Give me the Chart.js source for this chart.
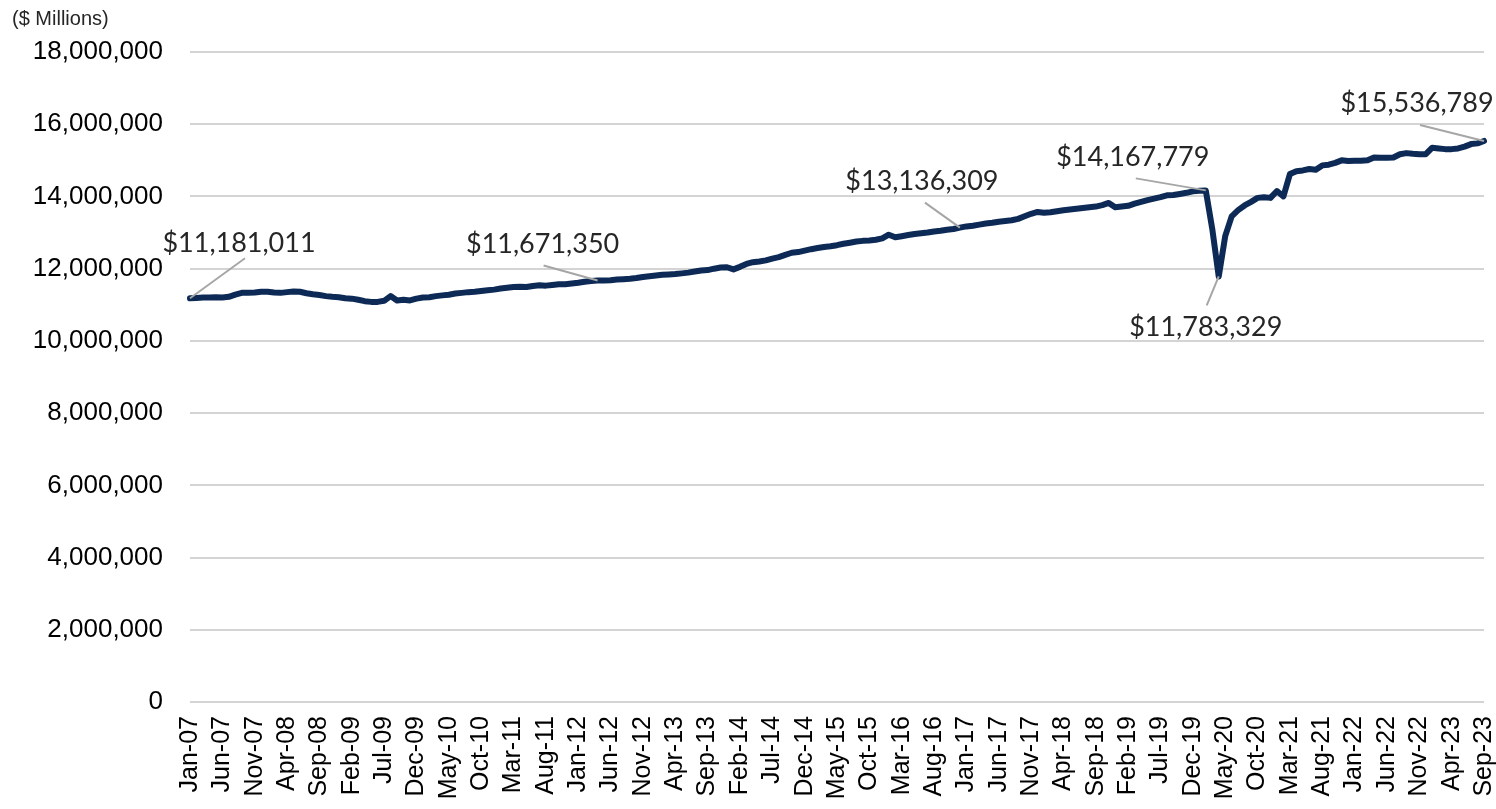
<!DOCTYPE html>
<html>
<head>
<meta charset="utf-8">
<script src="https://cdn.jsdelivr.net/npm/chart.js@4/dist/chart.umd.min.js"></script>
<style>
  html, body { margin: 0; padding: 0; background: #fff; }
  #wrap { width: 1496px; height: 809px; position: relative; }
</style>
</head>
<body>
<div id="wrap"><canvas id="spend" width="1496" height="809"></canvas></div>
<script>
// months Jan-07 .. Sep-23
var monthNames = ['Jan','Feb','Mar','Apr','May','Jun','Jul','Aug','Sep','Oct','Nov','Dec'];
var labels = [];
for (var y = 2007; y <= 2023; y++) {
    for (var m = 0; m < 12; m++) {
        if (y === 2023 && m > 8) break;
        labels.push(monthNames[m] + '-' + String(y).slice(2));
    }
}

// values in $ millions (one row per year)
var values = [
    11181011, 11190000, 11200000, 11200000, 11210000, 11200000, 11220000, 11280000, 11330000, 11330000, 11340000, 11360000,
    11360000, 11340000, 11330000, 11350000, 11370000, 11360000, 11320000, 11290000, 11270000, 11240000, 11220000, 11210000,
    11180000, 11170000, 11140000, 11100000, 11080000, 11080000, 11110000, 11240000, 11120000, 11140000, 11120000, 11170000,
    11200000, 11210000, 11240000, 11260000, 11280000, 11310000, 11330000, 11350000, 11360000, 11380000, 11400000, 11420000,
    11450000, 11470000, 11490000, 11500000, 11490000, 11520000, 11540000, 11530000, 11550000, 11570000, 11570000, 11590000,
    11610000, 11640000, 11660000, 11671350, 11670000, 11680000, 11700000, 11710000, 11720000, 11740000, 11770000, 11790000,
    11810000, 11830000, 11840000, 11850000, 11870000, 11890000, 11920000, 11950000, 11960000, 12000000, 12030000, 12040000,
    11980000, 12050000, 12130000, 12180000, 12200000, 12230000, 12280000, 12320000, 12380000, 12440000, 12460000, 12500000,
    12540000, 12570000, 12600000, 12620000, 12650000, 12690000, 12720000, 12750000, 12770000, 12780000, 12800000, 12840000,
    12940000, 12870000, 12900000, 12930000, 12960000, 12980000, 13000000, 13030000, 13050000, 13080000, 13100000, 13136309,
    13170000, 13190000, 13220000, 13250000, 13270000, 13300000, 13320000, 13340000, 13380000, 13450000, 13520000, 13570000,
    13550000, 13560000, 13590000, 13620000, 13640000, 13660000, 13680000, 13700000, 13720000, 13760000, 13820000, 13700000,
    13720000, 13740000, 13800000, 13850000, 13900000, 13940000, 13980000, 14030000, 14040000, 14070000, 14100000, 14140000,
    14160000, 14167779, 13100000, 11783329, 12900000, 13450000, 13620000, 13750000, 13850000, 13960000, 13980000, 13960000,
    14150000, 14000000, 14620000, 14700000, 14720000, 14760000, 14740000, 14860000, 14880000, 14930000, 15000000, 14980000,
    14990000, 14990000, 15000000, 15080000, 15070000, 15070000, 15080000, 15170000, 15200000, 15180000, 15170000, 15170000,
    15350000, 15330000, 15310000, 15310000, 15330000, 15380000, 15450000, 15470000, 15536789
];

var yTicks = [0, 2000000, 4000000, 6000000, 8000000, 10000000, 12000000, 14000000, 16000000, 18000000];

// callouts: which month, where the text sits and where the leader line stops (px offsets from the point)
var calloutIdx = [0, 63, 119, 157, 159, 200];
var calloutText = calloutIdx.map(i => '$' + values[i].toLocaleString('en-US'));
var calloutOffsets = [
    { tx: 49, ty: -55, lx: 55, ly: -40 },
    { tx: -55, ty: -36, lx: -54, ly: -15 },
    { tx: -38, ty: -46, lx: -35, ly: -25 },
    { tx: -73, ty: -33, lx: -70, ly: -12 },
    { tx: -13, ty: 51, lx: -12, ly: 29 },
    { tx: -67, ty: -38, lx: -64, ly: -16 }
];

const callouts = {
    id: 'callouts',
    afterDatasetsDraw(chart) {
        const c = chart.ctx;
        const xs = chart.scales.x, ys = chart.scales.y;
        c.save();
        calloutIdx.forEach((idx, k) => {
            const px = xs.getPixelForValue(idx);
            const py = ys.getPixelForValue(values[idx]);
            const o = calloutOffsets[k];
            c.strokeStyle = '#a6a6a6';
            c.lineWidth = 2;
            c.beginPath();
            c.moveTo(px, py);
            c.lineTo(px + o.lx, py + o.ly);
            c.stroke();
            c.fillStyle = '#262626';
            c.font = '27px Lato, "Open Sans", sans-serif';
            c.textAlign = 'center';
            c.textBaseline = 'middle';
            c.fillText(calloutText[k], px + o.tx, py + o.ty);
        });
        c.fillStyle = '#262626';
        c.font = '20px "Liberation Sans", Arial, sans-serif';
        c.textAlign = 'left';
        c.textBaseline = 'middle';
        c.fillText('($ Millions)', 12, 19);
        c.restore();
    }
};

const ctx = document.getElementById('spend');
const spend = new Chart(ctx, {
    type: 'line',
    data: {
        labels: labels,
        datasets: [{
            label: 'Spending',
            data: values,
            borderColor: '#0c2a55',
            borderWidth: 6,
            pointRadius: 0,
            tension: 0,
            borderJoinStyle: 'round',
            borderCapStyle: 'round'
        }]
    },
    options: {
        responsive: false,
        animation: false,
        layout: { padding: { top: 52, right: 12, left: 0, bottom: 0 } },
        plugins: {
            legend: { display: false },
            tooltip: { enabled: false }
        },
        scales: {
            x: {
                offset: false,
                grid: { display: false, drawTicks: false },
                border: { display: false },
                afterFit(scale) {
                    scale.height = 107;
                    scale.paddingRight = 0;
                    scale.paddingLeft = 0;
                },
                ticks: {
                    autoSkip: false,
                    maxRotation: 90,
                    minRotation: 90,
                    padding: 14,
                    color: '#000',
                    font: { family: '"Liberation Sans", Arial, sans-serif', size: 25 },
                    callback: function (val, i) { return i % 5 === 0 ? labels[i] : null; }
                }
            },
            y: {
                min: 0,
                max: 18000000,
                afterBuildTicks(scale) { scale.ticks = yTicks.map(v => ({ value: v })); },
                afterFit(scale) { scale.width = 190; },
                grid: { color: '#d4d4d4', lineWidth: 2, drawTicks: false },
                border: { display: false },
                ticks: {
                    padding: 27,
                    color: '#000',
                    font: { family: '"Liberation Sans", Arial, sans-serif', size: 26 },
                    callback: v => v.toLocaleString('en-US')
                }
            }
        }
    },
    plugins: [callouts]
});
</script>
</body>
</html>
